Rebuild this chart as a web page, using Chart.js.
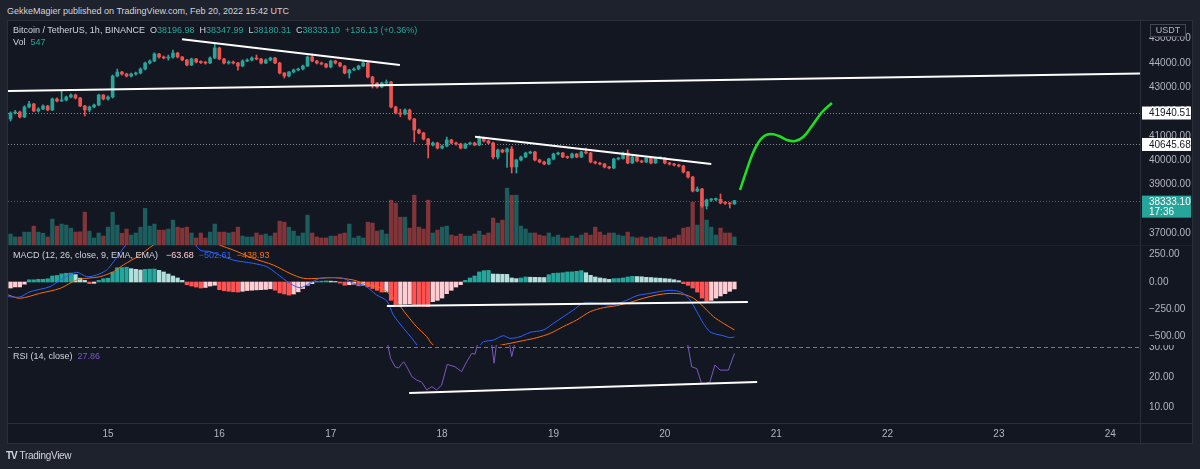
<!DOCTYPE html>
<html>
<head>
<meta charset="utf-8">
<title>BTCUSDT 1h</title>
<script src="https://cdn.jsdelivr.net/npm/chart.js@4.4.1/dist/chart.umd.min.js"></script>
<style>
  body { margin: 0; width: 1200px; height: 469px; overflow: hidden; background: #1e222d; position: relative;
         font-family: "Liberation Sans", Arial, sans-serif; color: #d1d4dc; }
  .abs { position: absolute; white-space: nowrap; }
  canvas { position: absolute; }
  .txt { font-size: 9px; line-height: 11px; }
  .txt span { margin-left: 5px; }
  .g { color: #26a69a; }
</style>
</head>
<body>
<div class="abs txt" style="left:7px;top:6px;">GekkeMagier published on TradingView.com, Feb 20, 2022 15:42 UTC</div>
<div class="abs" style="left:7px;top:20px;width:1184px;height:422px;background:#131722;border:1px solid #2a2e39;"></div>
<div class="abs" style="left:1140px;top:21px;width:1px;height:422px;background:#2a2e39;"></div>
<div class="abs" style="left:8px;top:245px;width:1184px;height:1px;background:#1f2330;"></div>
<div class="abs" style="left:8px;top:423px;width:1184px;height:1px;background:#2a2e39;"></div>

<canvas id="priceChart" width="1184" height="224" style="left:8px;top:21px"></canvas>
<canvas id="macdChart" width="1184" height="100" style="left:8px;top:245px"></canvas>
<canvas id="rsiChart" width="1184" height="98" style="left:8px;top:345px"></canvas>

<div class="abs txt" style="left:13px;top:25px;">Bitcoin / TetherUS, 1h, BINANCE<span>O<b class="g" style="font-weight:normal">38196.98</b></span><span>H<b class="g" style="font-weight:normal">38347.99</b></span><span>L<b class="g" style="font-weight:normal">38180.31</b></span><span>C<b class="g" style="font-weight:normal">38333.10</b></span><span class="g">+136.13 (+0.36%)</span></div>
<div class="abs txt" style="left:13px;top:37px;">Vol<span class="g">547</span></div>
<div class="abs txt" style="left:13px;top:250px;">MACD (12, 26, close, 9, EMA, EMA)<span style="color:#ffcdd2;margin-left:8px">−63.68</span><span style="color:#2962ff">−502.61</span><span style="color:#ff6d00">−438.93</span></div>
<div class="abs txt" style="left:13px;top:351px;">RSI (14, close)<span style="color:#7e57c2">27.86</span></div>
<div class="abs" style="left:6px;top:450px;font-size:10px;line-height:12px;color:#d1d4dc;"><b style="letter-spacing:-1px">TV</b> <span style="letter-spacing:-0.3px">TradingView</span></div>

<script>
// hours are counted from Feb 15 00:00, first candle is Feb 14 03:00
const FIRST_HOUR = -21;
const FIRST_OPEN = 41695;

const closes = [
  41941, 41983, 41777, 42188, 42312, 42024, 42106, 42230, 42065, 42518,
  42436, 42477, 42600, 42683, 42559, 42230, 42065, 42188, 42271, 42683,
  42518, 42600,
  43465, 43629, 43547, 43465, 43547, 43588, 43753, 44000, 44082, 44371,
  44247, 44206, 44240, 44412, 44247, 44124, 43918, 44165, 44041, 44020,
  44000, 44206, 44618, 44165, 44000, 44041, 44000, 43876, 44082, 44124,
  44206, 44165, 44000, 44124, 44206, 44000, 43588, 43465, 43629, 43712,
  43753, 43876, 44247, 44082, 44000, 43960, 43835, 44082, 44000, 43876,
  43588, 43712, 43753, 43876, 44000, 43424, 43177, 43012, 43177, 43218,
  42188, 41941, 41900, 42065, 41695, 41242, 41118, 40871, 40624, 40706,
  40500, 40583, 40830, 40706, 40665, 40500, 40665, 40706, 40624, 40912,
  40789, 40706, 40130, 40418, 40336, 40459, 39718, 40007, 40130, 40295,
  40336, 40007, 39924, 39842, 40048, 40253, 40295, 40130, 40110, 40253,
  40130, 40336, 40295, 39924, 39883, 39842, 39718, 39677, 40048, 40070,
  40295, 39883, 40130, 39965, 39924, 40089, 39883, 40089, 40100, 39883,
  39842, 39801, 39759, 39512, 39307, 38730, 38813, 38113, 38360, 38380,
  38390, 38236, 38230, 38196.98, 38333.10
];
const highs = [
  41990, 42050, 42020, 42240, 42420, 42340, 42160, 42280, 42260, 42560,
  42570, 42850, 42640, 42730, 42720, 42590, 42260, 42230, 42310, 42720,
  42700, 42650,
  43510, 43750, 43660, 43580, 43590, 43630, 43800, 44040, 44130, 44420,
  44400, 44290, 44330, 44530, 44440, 44270, 44150, 44200, 44190, 44090,
  44060, 44250, 44790, 44650, 44190, 44090, 44080, 44030, 44130, 44170,
  44250, 44330, 44190, 44170, 44240, 44230, 44030, 43610, 43660, 43750,
  43790, 43910, 44290, 44370, 44110, 44040, 43990, 44120, 44110, 44030,
  43900, 43740, 43800, 43910, 44050, 44030, 43450, 43200, 43210, 43300,
  43250, 42220, 42100, 42110, 42100, 41720, 41280, 41150, 40900, 40750,
  40740, 40620, 40950, 40860, 40740, 40700, 40700, 40740, 40740, 40990,
  40950, 40820, 40740, 40460, 40450, 40500, 40560, 40040, 40170, 40330,
  40370, 40360, 40040, 39960, 40080, 40290, 40330, 40320, 40170, 40290,
  40280, 40370, 40500, 40320, 39960, 39910, 39870, 39750, 40080, 40110,
  40330, 40420, 40160, 40160, 40000, 40120, 40110, 40120, 40140, 40120,
  39910, 39870, 39830, 39790, 39540, 39330, 38900, 38840, 38400, 38420,
  38440, 38607, 38290, 38260, 38347.99
];
const lows = [
  41610, 41900, 41740, 41750, 42150, 41990, 41980, 42080, 42030, 42040,
  42400, 42420, 42440, 42560, 42520, 42200, 41820, 41990, 42150, 42240,
  42480, 42470,
  42560, 43430, 43500, 43420, 43420, 43500, 43550, 43720, 43960, 44050,
  44200, 44170, 44120, 44200, 44210, 44090, 43880, 43890, 44000, 43980,
  43950, 43970, 44180, 44130, 43960, 43950, 43960, 43700, 43850, 44050,
  44090, 44130, 43960, 43970, 44090, 43970, 43550, 43380, 43430, 43590,
  43680, 43720, 43850, 44050, 43960, 43920, 43800, 43800, 43960, 43840,
  43550, 43380, 43680, 43720, 43850, 43390, 42970, 42960, 42980, 43150,
  42150, 41900, 41790, 41860, 41650, 40750, 41080, 40830, 40090, 40580,
  40460, 40460, 40550, 40670, 40620, 40460, 40470, 40630, 40590, 40590,
  40750, 40670, 40050, 40050, 40300, 39700, 39470, 39470, 39970, 40100,
  40260, 39970, 39890, 39810, 39810, 40010, 40220, 40100, 40070, 40080,
  40100, 40100, 40260, 39890, 39840, 39800, 39680, 39640, 39650, 40010,
  40040, 39850, 39860, 39930, 39890, 39900, 39850, 39860, 40050, 39850,
  39800, 39760, 39720, 39470, 39260, 38690, 38700, 38050, 37990, 38300,
  38330, 38200, 38180, 38030, 38180.31
];
const volumes = [
  750, 550, 550, 880, 880, 1290, 880, 800, 550, 1770,
  1290, 1430, 1360, 1150, 880, 900, 2240, 950, 480, 820,
  610, 1220,
  2240, 1360, 800, 1090, 680, 820, 1220, 2500, 1290, 1430,
  1020, 1020, 1090, 1700, 1220, 1150, 1220, 820, 480, 820,
  480, 880, 1430, 880, 880, 820, 880, 1220, 610, 550,
  550, 820, 680, 750, 610, 820, 1630, 1560, 1220, 950,
  610, 820, 2040, 820, 550, 480, 480, 610, 610, 750,
  820, 1430, 480, 610, 480, 1560, 1500, 950, 1020, 750,
  3060, 2860, 1900, 1900, 1150, 3400, 1220, 1090, 3060, 820,
  1020, 1220, 1290, 680, 610, 750, 610, 610, 750, 950,
  680, 820, 1840, 1500, 1700, 3880, 3400, 3400, 1290, 1090,
  820, 820, 680, 610, 820, 550, 680, 480, 480, 610,
  480, 680, 820, 680, 1220, 880, 680, 820, 820, 680,
  610, 880, 550, 480, 550, 480, 550, 480, 550, 550,
  400, 480, 680, 1150, 1220, 2920, 1360, 2920, 1700, 1220,
  680, 1150, 820, 820, 547
];
const macdHist = [
  -55, -45, -45, -20, 20, 20, 25, 25, 30, 55,
  60, 75, 80, 82, 68, 35, 15, -15, -12, 15,
  30, 35,
  90, 130, 132, 136, 122, 116, 110, 116, 118, 119,
  107, 92, 73, 55, 37, 15, -25, -37, -46, -55,
  -50, -37, -30, -70, -80, -85, -90, -92, -85, -78,
  -75, -72, -70, -68, -62, -75, -100, -110, -120, -110,
  -90, -60, -30, -15, 5, 8, 10, 8, 5, -10,
  -30, -25, -20, -35, -30, -45, -60, -76, -92, -90,
  -168, -207, -205, -203, -200, -218, -220, -222, -226, -180,
  -168, -147, -107, -76, -46, -24, 15, 37, 55, 92,
  104, 106, 73, 72, 71, 70, 37, 31, 37, 46,
  44, 43, 42, 41, 67, 80, 82, 85, 92, 93,
  98, 104, 85, 61, 46, 37, 31, 24, 31, 32,
  37, 46, 52, 50, 48, 43, 41, 37, 35, 31,
  28, 21, 12, -15, -31, -55, -92, -147, -177, -168,
  -147, -128, -107, -85, -63.68
];
// [hour, value] readings of the MACD and signal lines (parts off the pane are estimates)
const macdLine = [
  [-21.5, -134], [-19, -137], [-16.8, -89], [-12.5, -43], [-10.3, 18], [-6.8, 89], [-4.6, 49],
  [-2.5, 64], [-0.3, 110], [1.2, 186], [3.3, 309], [6, 450], [10, 560], [14, 560], [18, 400],
  [19.8, 293], [22, 278], [27, 201], [31.3, 171], [34.2, 140], [36.3, 79], [39.2, -12],
  [41.4, -52], [43.5, -12], [45.7, 34], [48.6, 40], [50.7, 34], [52.9, -12], [55, -27],
  [56.5, -70], [57.9, -119], [60.1, -174], [61.5, -302], [63.7, -424], [65.5, -516], [68, -650],
  [72, -760], [76, -700], [80.2, -577], [80.9, -547], [83.1, -531], [85.2, -492], [86.6, -516],
  [88.8, -501], [91, -461], [93.8, -440], [96, -378], [98.1, -318], [100.3, -256], [102.4, -195],
  [105.3, -195], [108.2, -211], [111.1, -180], [114, -125], [116.8, -104], [119.7, -82],
  [121.1, -76], [122.6, -82], [124, -104], [125.4, -165], [126.9, -272], [128.3, -378],
  [129.7, -455], [131.2, -479], [132.6, -492], [134, -510], [135, -502.61]
];
const signalLine = [
  [-21.5, -119], [-19, -149], [-14.7, -104], [-10.3, -58], [-6.8, 18], [-4.6, 34], [-1.7, 49],
  [1.2, 95], [3.3, 156], [6.9, 247], [9.8, 339], [14, 430], [20, 430], [24.1, 339], [27, 293],
  [31.3, 217], [35.6, 156], [39.2, 79], [42.1, 34], [45.7, 34], [48.6, 40], [52.9, 18],
  [55.7, -21], [58.6, -52], [60.1, -89], [62.2, -180], [64.4, -302], [66.5, -409], [68.7, -501],
  [70.1, -577], [75, -640], [80, -620], [84.8, -577], [86.6, -562], [89.5, -537], [92.4, -510],
  [95.3, -470], [98.1, -409], [101, -348], [103.9, -272], [106.8, -235], [109.6, -217],
  [112.5, -186], [115.4, -149], [118.3, -119], [121.1, -104], [124, -113], [126.2, -149],
  [128.3, -226], [130.5, -318], [132.6, -378], [135, -438.93]
];
const rsiLine = [
  [55, 45], [60.2, 31.5], [60.9, 26.2], [61.9, 23.4], [62.6, 23.0], [63.7, 25.1], [64.4, 23.4],
  [65.5, 20.1], [66.5, 19.0], [67.6, 18.3], [68.7, 15.7], [69.8, 16.8], [70.8, 15.7], [71.9, 17.3],
  [73.1, 24.2], [74.8, 23.4], [76.2, 21.8], [77.3, 25.1], [78.4, 27.9], [79.1, 27.6], [79.8, 32],
  [81, 38], [82.6, 32], [83.2, 24.6], [83.8, 32], [85, 38], [86.4, 32], [87, 26.8], [87.8, 32],
  [90, 40], [100, 45], [110, 42], [120, 40], [124.8, 32], [125.8, 23.4], [126.9, 22.8],
  [127.9, 17.9], [129, 17.9], [129.7, 18.3], [130.8, 24], [131.9, 22.3], [133.7, 22.3], [135, 27.86]
];

// drawings on the chart, [hour, value]
const longSupport = [[-21.55, 42850], [222.4, 43570]];
const upperTrend = [[15.95, 44976], [62.9, 43918]];
const lowerTrend = [[79.1, 40966], [130, 39842]];
const projection = [
  [136.2, 38771], [137.5, 39513], [138.8, 40212], [140.1, 40706], [141.4, 40995], [142.9, 41077],
  [144.6, 40995], [146.3, 40830], [148.1, 40789], [149.8, 40953], [151.7, 41406], [153.9, 41983],
  [156.0, 42353]
];
const macdSupport = [[60.1, -220], [137.9, -183]];
const rsiSupport = [[64.9, 14.67], [139.9, 18.33]];

const levelPrices = [41940.51, 40645.68];
const lastPrice = 38333.10;
const countdown = '17:36';

const priceTicks = [37000, 38000, 39000, 40000, 41000, 42000, 43000, 44000, 45000];
const macdTicks = [250, 0, -250, -500];
const rsiTicks = [10, 20, 30];
const rsiBandLevel = 30;
const dayLabels = ['15', '16', '17', '18', '19', '20', '21', '22', '23', '24'];

const X_MIN = -21.55, X_MAX = 222.4;
const UP = '#26a69a', DOWN = '#ef5350';
const AXIS_TEXT = '#b2b5be';
const FONT = '"Liberation Sans", Arial, sans-serif';

Chart.defaults.font.family = FONT;
Chart.defaults.color = AXIS_TEXT;

const hours = closes.map((c, i) => FIRST_HOUR + i);
const opens = closes.map((c, i) => i ? closes[i - 1] : FIRST_OPEN);
const candleColors = closes.map((c, i) => c >= opens[i] ? UP : DOWN);
const volumeColors = closes.map((c, i) => c >= opens[i] ? 'rgba(38,166,154,0.5)' : 'rgba(239,83,80,0.5)');
const histColors = macdHist.map((v, i) => {
  const prev = i ? macdHist[i - 1] : v;
  if (v >= 0) return v >= prev ? '#26a69a' : '#b2dfdb';
  return v < prev ? '#ff5252' : '#ffcdd2';
});
const pts = arr => arr.map(p => ({x: p[0], y: p[1]}));
const money = v => v < 0 ? '−' + Math.abs(v).toFixed(2) : v.toFixed(2);

function timeAxis(show) {
  const axis = {
    type: 'linear', min: X_MIN, max: X_MAX, offset: false, display: show,
    grid: {display: false, drawTicks: false, offset: false},
    border: {display: false},
    afterBuildTicks: a => { a.ticks = dayLabels.map((d, i) => ({value: i * 24})); },
    ticks: {color: AXIS_TEXT, padding: 5, maxRotation: 0, autoSkip: false, font: {size: 10},
            callback: v => dayLabels[Math.round(v / 24)]}
  };
  if (show) axis.afterFit = a => { a.height = 20; a.paddingLeft = 0; a.paddingRight = 0; };
  return axis;
}

function valueAxis(min, max, ticks) {
  return {
    position: 'right', min: min, max: max,
    grid: {display: false, drawTicks: false},
    border: {display: false},
    afterBuildTicks: a => { a.ticks = ticks.map(v => ({value: v})); },
    ticks: {color: AXIS_TEXT, padding: 9, autoSkip: false, font: {size: 10}, callback: v => money(v)},
    afterFit: a => { a.width = 52; a.paddingTop = 0; a.paddingBottom = 0; }
  };
}

function baseOptions(scales) {
  return {
    responsive: false, animation: false, events: [],
    layout: {padding: 0},
    plugins: {legend: {display: false}, tooltip: {enabled: false}},
    scales: scales
  };
}

function drawLine(data, color, width, order, tension) {
  return {type: 'line', data: pts(data), borderColor: color, borderWidth: width,
          pointRadius: 0, tension: tension || 0, order: order};
}

const priceMarkers = {
  id: 'priceMarkers',
  beforeDatasetsDraw(chart) {
    const {ctx, chartArea: a, scales: {y}} = chart;
    ctx.save();
    ctx.lineWidth = 1;
    ctx.setLineDash([1, 2]);
    levelPrices.concat([lastPrice]).forEach(p => {
      const py = Math.round(y.getPixelForValue(p)) + 0.5;
      ctx.strokeStyle = p === lastPrice ? 'rgba(38,166,154,0.7)' : 'rgba(209,212,220,0.6)';
      ctx.beginPath(); ctx.moveTo(a.left, py); ctx.lineTo(a.right, py); ctx.stroke();
    });
    ctx.restore();
  },
  afterDraw(chart) {
    const {ctx, chartArea: a, scales: {y}} = chart;
    ctx.save();
    ctx.font = '10px ' + FONT;
    ctx.textBaseline = 'middle';
    levelPrices.forEach(p => {
      const py = y.getPixelForValue(p);
      ctx.fillStyle = '#ffffff';
      ctx.fillRect(a.right + 2, py - 6.5, 49, 13);
      ctx.fillStyle = '#131722';
      ctx.fillText(p.toFixed(2), a.right + 9, py + 0.5);
    });
    const ly = y.getPixelForValue(lastPrice);
    ctx.fillStyle = UP;
    ctx.fillRect(a.right + 2, ly - 5, 49, 22);
    ctx.fillStyle = '#ffffff';
    ctx.fillText(lastPrice.toFixed(2), a.right + 9, ly + 1.5);
    ctx.fillText(countdown, a.right + 9, ly + 11.5);
    ctx.fillStyle = '#131722';
    ctx.fillRect(a.right + 10, 3, 36, 13);
    ctx.strokeStyle = '#434651';
    ctx.lineWidth = 1;
    ctx.strokeRect(a.right + 10.5, 3.5, 35, 12);
    ctx.fillStyle = AXIS_TEXT;
    ctx.font = '9px ' + FONT;
    ctx.textAlign = 'center';
    ctx.fillText('USDT', a.right + 28, 10);
    ctx.restore();
  }
};

const rsiBand = {
  id: 'rsiBand',
  beforeDatasetsDraw(chart) {
    const {ctx, chartArea: a, scales: {y}} = chart;
    const py = Math.round(y.getPixelForValue(rsiBandLevel)) + 0.5;
    ctx.save();
    ctx.strokeStyle = '#787b86';
    ctx.lineWidth = 1;
    ctx.setLineDash([4, 3]);
    ctx.beginPath(); ctx.moveTo(a.left, py); ctx.lineTo(a.right, py); ctx.stroke();
    ctx.restore();
  }
};

new Chart(document.getElementById('priceChart'), {
  type: 'bar',
  data: {
    datasets: [
      drawLine(longSupport, '#ffffff', 2, 0),
      drawLine(upperTrend, '#ffffff', 2, 0),
      drawLine(lowerTrend, '#ffffff', 2, 0),
      drawLine(projection, '#1ee01e', 2.5, 0, 0.4),
      {data: hours.map((h, i) => ({x: h, y: [opens[i], closes[i]]})), backgroundColor: candleColors,
       barThickness: 3, minBarLength: 1, grouped: false, order: 2},
      {data: hours.map((h, i) => ({x: h, y: [lows[i], highs[i]]})), backgroundColor: candleColors,
       barThickness: 1, grouped: false, order: 3},
      {data: hours.map((h, i) => ({x: h, y: volumes[i]})), backgroundColor: volumeColors,
       barThickness: 3.6, grouped: false, yAxisID: 'vol', order: 4}
    ]
  },
  options: baseOptions({
    x: timeAxis(false),
    y: valueAxis(36507, 45729, priceTicks),
    vol: {display: false, min: 0, max: 15300}
  }),
  plugins: [priceMarkers]
});

new Chart(document.getElementById('macdChart'), {
  type: 'bar',
  data: {
    datasets: [
      drawLine(macdSupport, '#ffffff', 2, 0),
      drawLine(macdLine, '#2962ff', 1, 1, 0.3),
      drawLine(signalLine, '#ff6d00', 1, 2, 0.3),
      {data: hours.map((h, i) => ({x: h, y: macdHist[i]})), backgroundColor: histColors,
       barThickness: 3.6, grouped: false, order: 3}
    ]
  },
  options: baseOptions({
    x: timeAxis(false),
    y: valueAxis(-577, 339, macdTicks)
  })
});

new Chart(document.getElementById('rsiChart'), {
  type: 'line',
  data: {
    datasets: [
      drawLine(rsiSupport, '#ffffff', 2, 0),
      drawLine(rsiLine, '#7e57c2', 1, 1)
    ]
  },
  options: baseOptions({
    x: timeAxis(true),
    y: valueAxis(4.67, 30.67, rsiTicks)
  }),
  plugins: [rsiBand]
});
</script>
</body>
</html>
